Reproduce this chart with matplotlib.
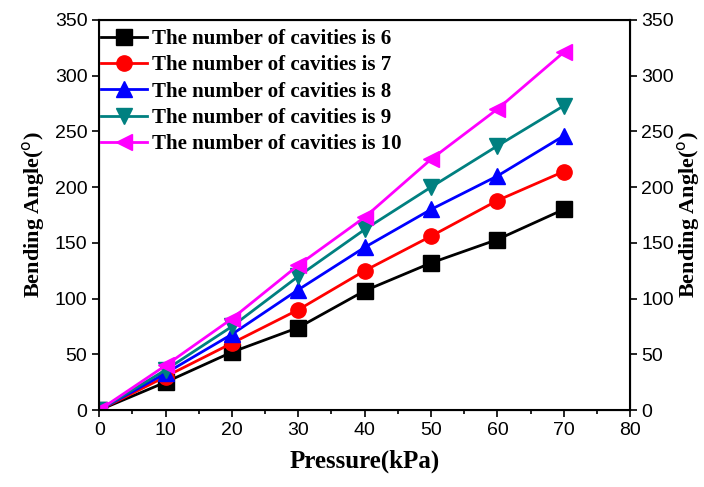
import numpy as np
import matplotlib.pyplot as plt
from matplotlib.ticker import MultipleLocator

pressure = [0, 10, 20, 30, 40, 50, 60, 70]
angle6 = [0, 25, 52, 74, 107, 132, 153, 180]
angle7 = [0, 30, 60, 90, 125, 156, 188, 214]
angle8 = [0, 33, 68, 108, 146, 180, 210, 246]
angle9 = [0, 36, 75, 120, 162, 200, 237, 273]
angle10 = [0, 40, 82, 130, 173, 225, 270, 321]

labels = ["The number of cavities is 6", "The number of cavities is 7",
          "The number of cavities is 8", "The number of cavities is 9",
          "The number of cavities is 10"]
colors = ['black', 'red', 'blue', '#008080', 'magenta']
markers = ['s', 'o', '^', 'v', '<']

tickfont = 'Liberation Sans'
serif = 'Liberation Serif'

fig = plt.figure(figsize=(7.04, 4.87), dpi=100)
ax = fig.add_axes([0.141, 0.158, 0.754, 0.801])

for y, c, m, lab in zip([angle6, angle7, angle8, angle9, angle10], colors, markers, labels):
    ax.plot(pressure, y, color=c, marker=m, markersize=11, linewidth=2, label=lab)

ax.set_xlim(0, 80)
ax.set_ylim(0, 350)
ax.xaxis.set_major_locator(MultipleLocator(10))
ax.xaxis.set_minor_locator(MultipleLocator(5))
ax.yaxis.set_major_locator(MultipleLocator(50))
ax.tick_params(which='both', direction='out', width=1.2)
ax.tick_params(which='major', length=5, labelsize=14)
ax.tick_params(which='minor', length=3)
for s in ax.spines.values():
    s.set_linewidth(1.5)
for t in ax.get_xticklabels() + ax.get_yticklabels():
    t.set_family(tickfont)

ax.set_xlabel("Pressure(kPa)", fontsize=18, fontweight='bold', family=serif, labelpad=8)
ax.set_ylabel("Bending Angle($^{\\rm o}$)", fontsize=16, fontweight='bold', family=serif, labelpad=6)

ax2 = ax.twinx()
ax2.set_ylim(0, 350)
ax2.yaxis.set_major_locator(MultipleLocator(50))
ax2.tick_params(direction='out', length=5, width=1.2, labelsize=14, pad=3)
for t in ax2.get_yticklabels():
    t.set_family(tickfont)
ax2.set_ylabel("Bending Angle($^{\\rm o}$)", fontsize=16, fontweight='bold', family=serif,
               rotation=90, labelpad=1)

leg = ax.legend(loc='upper left', bbox_to_anchor=(-0.013, 0.998), frameon=False,
                prop={'family': serif, 'weight': 'bold', 'size': 15},
                handlelength=2.2, handletextpad=0.25, labelspacing=0.3, borderaxespad=0.0,
                borderpad=0.4)

fig.savefig("out.png", dpi=100)
